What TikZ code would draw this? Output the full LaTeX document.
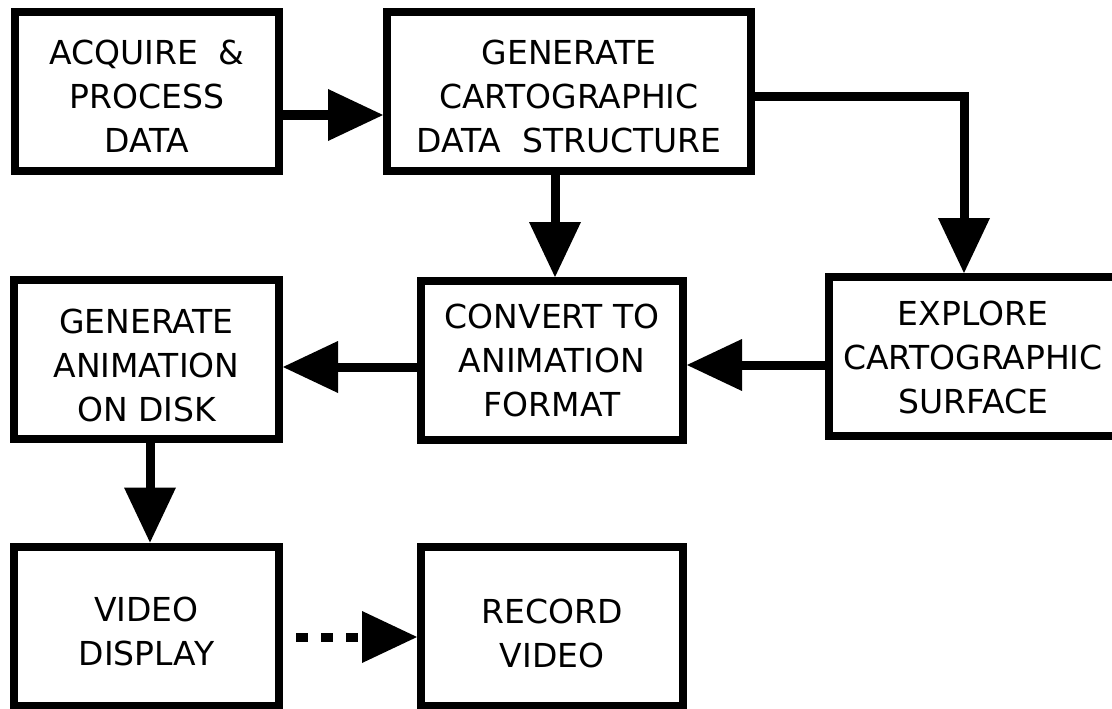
\documentclass[tikz,border=0pt]{standalone}
\usepackage{fontspec}
\setmainfont{DejaVu Sans}
\usetikzlibrary{arrows.meta}
% invisible strut on a first line: lowers the text block by #1 pt
\newcommand\dropby[1]{\rule{0pt}{\dimexpr24pt+#1pt*2\relax}}
\tikzset{
  block/.style={draw=black, line width=8pt, fill=white, inner sep=0pt,
    minimum height=159pt, align=center,
    font=\fontsize{33}{44}\selectfont},
  flow/.style={line width=9pt,
    -{Triangle[length=55pt, width=52pt, line width=0pt]}},
  dotflow/.style={flow, dash pattern=on 12pt off 13pt, dash phase=12pt},
}
\begin{document}
\begin{tikzpicture}[x=1pt, y=-1pt]
\useasboundingbox (0,0) rectangle (1112,709);

% process boxes
\node[block, minimum width=264pt] (acq)  at (147,91.5)   {\dropby{5}ACQUIRE~~\&\\PROCESS\\DATA};
\node[block, minimum width=364pt] (gen)  at (569,91.5)   {\dropby{5.5}GENERATE\\CARTOGRAPHIC\\DATA~~STRUCTURE};
\node[block, minimum width=288pt] (expl) at (973,356.5)  {\dropby{1.5}EXPLORE\\CARTOGRAPHIC\\SURFACE};
\node[block, minimum width=262pt] (conv) at (552,360.5)  {\dropby{0.5}CONVERT TO\\ANIMATION\\FORMAT};
\node[block, minimum width=265pt] (anim) at (146.5,359.5){\dropby{6}GENERATE\\ANIMATION\\ON DISK};
\node[block, minimum width=265pt] (disp) at (146.5,626)  {\dropby{5.5}VIDEO\\DISPLAY};
\node[block, minimum width=262pt] (rec)  at (552,626.5)  {\dropby{7}RECORD\\VIDEO};

% reference levels for the connectors
\coordinate (r1) at (0,115);
\coordinate (r2) at (964,97);
\coordinate (r3) at (0,365);
\coordinate (r4) at (0,367);
\coordinate (c1) at (555,0);
\coordinate (c2) at (150,0);
\coordinate (r5) at (0,637);

% connectors
\draw[flow] (acq.east |- r1) -- (gen.west |- r1);
\draw[flow] (gen.east |- r2) -| (expl.north -| r2);
\draw[flow] (c1 |- gen.south) -- (c1 |- conv.north);
\draw[flow] (expl.west |- r3) -- (conv.east |- r3);
\draw[flow] (conv.west |- r4) -- (anim.east |- r4);
\draw[flow] (c2 |- anim.south) -- (c2 |- disp.north);
\draw[dotflow] (disp.east |- r5) -- (rec.west |- r5);
\end{tikzpicture}
\end{document}
